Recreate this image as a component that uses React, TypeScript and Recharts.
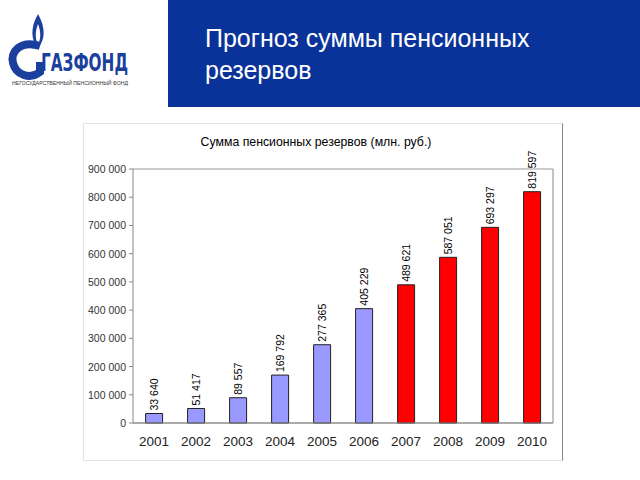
import { BarChart, Bar, Cell, XAxis, YAxis, CartesianGrid, LabelList } from "recharts";

const years = ["2001", "2002", "2003", "2004", "2005", "2006", "2007", "2008", "2009", "2010"];
const reserves = [33640, 51417, 89557, 169792, 277365, 405229, 489621, 587051, 693297, 819597];
const isForecast = [false, false, false, false, false, false, true, true, true, true];
const yTicks = [0, 100000, 200000, 300000, 400000, 500000, 600000, 700000, 800000, 900000];

const data = years.map((year, i) => ({ year, value: reserves[i], forecast: isForecast[i] }));

const fmt = (v: number) => String(v).replace(/\B(?=(\d{3})+(?!\d))/g, " ");

const font = "'Liberation Sans', Arial, sans-serif";

function RotatedLabel(props: any) {
    const { x, y, width, value } = props;
    const cx = x + width / 2 + 4;
    const cy = y - 3;
    return (
        <text x={cx} y={cy} transform={`rotate(-90 ${cx} ${cy})`} fontSize={10.5} fill="#000" textAnchor="start" fontFamily={font}>
            {fmt(value)}
        </text>
    );
}

function YTick(props: any) {
    const { x, y, payload } = props;
    return (
        <text x={x - 1} y={y + 4} fontSize={10.5} fill="#333" textAnchor="end" fontFamily={font}>
            {fmt(payload.value)}
        </text>
    );
}

function Logo() {
    return (
        <svg width={166} height={100} style={{ position: "absolute", left: 0, top: 0 }}>
            {/* пламя */}
            <path d="M38 14 C30 28 31 40 38 48 C45 40 46 28 38 14 Z" fill="#1b3f9c" />
            <path d="M38 24 C35 32 35 39 38 44 C41 39 41 32 38 24 Z" fill="#fff" />
            {/* буква G */}
            <path d="M40 46 C20 40 10 52 13 63 C16 75 30 80 40 72 L40 62" fill="none" stroke="#1b3f9c" strokeWidth={8} />
            <text x={41} y={71} fontSize={24} fontWeight="bold" fill="#1b3f9c" fontFamily="'DejaVu Sans Condensed', 'Liberation Sans Narrow', sans-serif" textLength={87} lengthAdjust="spacingAndGlyphs">
                ГАЗФОНД
            </text>
            <text x={12} y={85} fontSize={5.5} fill="#333" fontFamily={font} textLength={116} lengthAdjust="spacingAndGlyphs">
                НЕГОСУДАРСТВЕННЫЙ ПЕНСИОННЫЙ ФОНД
            </text>
        </svg>
    );
}

export default function App() {
    return (
        <div style={{ position: "absolute", left: 0, top: 0, width: 640, height: 480, background: "#fff", fontFamily: font }}>
            <Logo />

            {/* шапка */}
            <div style={{ position: "absolute", left: 168, top: 0, width: 472, height: 107, background: "#0a3399" }}>
                <div style={{ position: "absolute", left: 37, top: 22, color: "#fff", fontSize: 25, lineHeight: "32px" }}>
                    Прогноз суммы пенсионных
                    <br />
                    резервов
                </div>
            </div>

            {/* диаграмма */}
            <div style={{ position: "absolute", left: 83, top: 123, width: 478, height: 336, border: "1px solid #e2e2e2", borderRight: "1px solid #888" }}>
                <div style={{ position: "absolute", left: 0, top: 11, width: 464, textAlign: "center", fontSize: 12.3, color: "#000" }}>
                    Сумма пенсионных резервов (млн. руб.)
                </div>
                <BarChart width={478} height={336} data={data} margin={{ top: 45, right: 0, bottom: 0, left: 0 }} barCategoryGap="30%">
                    <CartesianGrid vertical={false} stroke="#999" />
                    <XAxis
                        dataKey="year"
                        height={37}
                        tickLine={false}
                        axisLine={{ stroke: "#888" }}
                        tick={{ fontSize: 13.5, fill: "#222", fontFamily: font }}
                        tickMargin={7}
                    />
                    <YAxis
                        yAxisId="l"
                        width={49}
                        domain={[0, 900000]}
                        ticks={yTicks}
                        axisLine={{ stroke: "#888" }}
                        tickLine={{ stroke: "#888" }}
                        tickSize={4}
                        tick={YTick}
                    />
                    <YAxis yAxisId="r" orientation="right" width={9} tick={false} tickLine={false} axisLine={{ stroke: "#888" }} domain={[0, 900000]} />
                    <Bar yAxisId="l" dataKey="value" isAnimationActive={false} stroke="#222" strokeWidth={1}>
                        {data.map((d, i) => (
                            <Cell key={`c-${i}`} fill={d.forecast ? "#ff0000" : "#9999ff"} />
                        ))}
                        <LabelList dataKey="value" content={RotatedLabel} />
                    </Bar>
                </BarChart>
            </div>
        </div>
    );
}
